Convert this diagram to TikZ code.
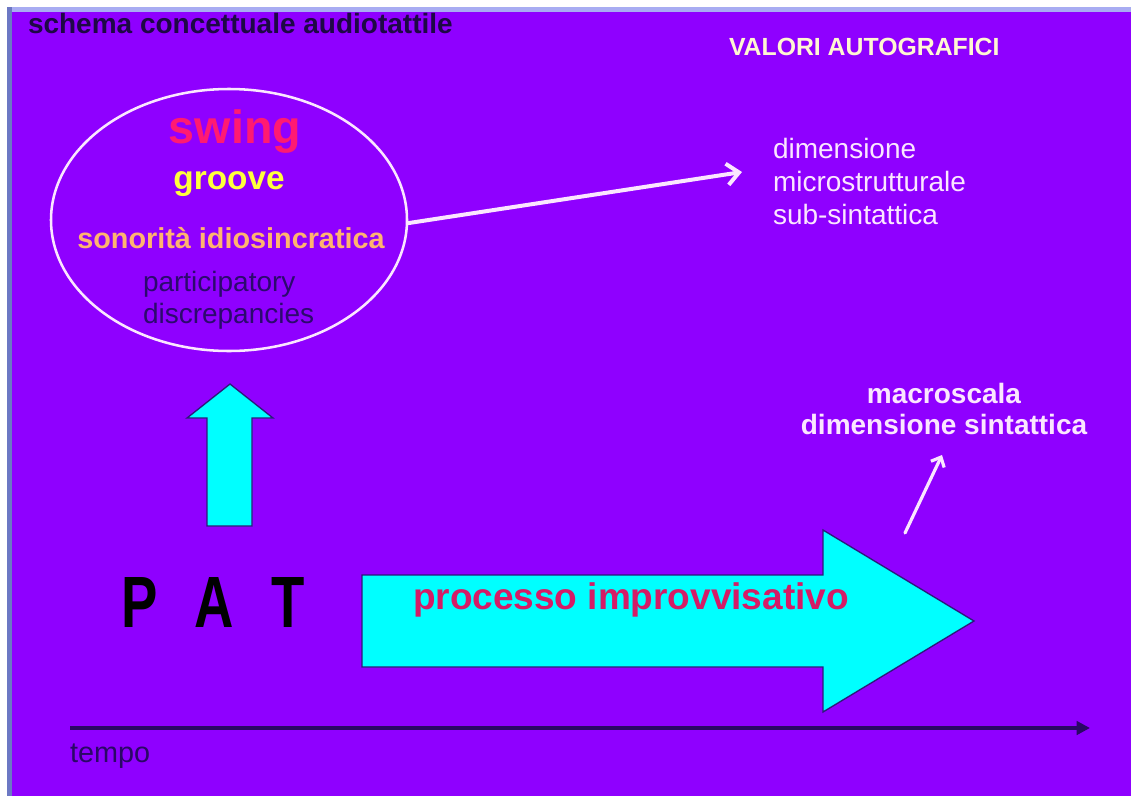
\documentclass[tikz,border=0pt]{standalone}
\usepackage{fontspec}
\setmainfont{Liberation Sans}
\newfontfamily\patfont[FakeStretch=0.75]{Liberation Sans}
\usetikzlibrary{shapes.geometric,arrows.meta}
\definecolor{bgc}{HTML}{8F00FF}
\definecolor{topc}{HTML}{A8ACF2}
\definecolor{leftc}{HTML}{6C78C4}
\definecolor{titlec}{HTML}{1E0846}
\definecolor{valc}{HTML}{FFF6D2}
\definecolor{swingc}{HTML}{FF1A72}
\definecolor{groovec}{HTML}{FFFF3C}
\definecolor{sonc}{HTML}{FFB46E}
\definecolor{partc}{HTML}{2C0A6E}
\definecolor{whitec}{HTML}{FBE6FF}
\definecolor{cyanc}{HTML}{00FFFF}
\definecolor{navyc}{HTML}{2E1A7A}
\definecolor{procc}{HTML}{D41C66}
\definecolor{axisc}{HTML}{2A0866}
\tikzset{
  txt/.style={inner sep=0pt, outer sep=0pt},
  cyanarrow/.style={fill=cyanc, draw=navyc, line width=1pt, line join=miter},
  warrow/.style={draw=whitec, line width=3pt, line cap=round,
    -{Straight Barb[length=9pt,width=16pt,line width=3pt]}},
  wsmall/.style={draw=whitec, line width=2.4pt, line cap=round,
    -{Straight Barb[length=6pt,width=11pt,line width=2.4pt]}},
  axisline/.style={draw=axisc, line width=2.8pt, -{Triangle[length=10pt,width=10pt]}}
}
\begin{document}
\begin{tikzpicture}[x=0.75pt,y=-0.75pt]
\useasboundingbox (0,0) rectangle (1131,796);
% background and frame
\fill[white] (0,0) rectangle (1131,796);
\fill[topc] (7,7) rectangle (1131,12);
\fill[leftc] (7,7) rectangle (12,796);
\fill[bgc] (12,12) rectangle (1131,796);

% titles
\node[txt, anchor=base west, text=titlec, font={\fontsize{21pt}{25pt}\selectfont\bfseries}] (title) at (28,33) {schema concettuale audiotattile};
\node[txt, anchor=base west, text=valc, font={\fontsize{18.6pt}{23pt}\selectfont\bfseries}] (valori) at (729,55) {VALORI AUTOGRAFICI};

% ellipse with contents
\node[ellipse, draw=whitec, line width=1.9pt, minimum width=267pt, minimum height=196.5pt, inner sep=0pt] (ell) at (229,220) {};
\node[txt, anchor=base, text=swingc, font={\fontsize{35pt}{40pt}\selectfont\bfseries}] (swing) at (235,143) {swing};
\node[txt, anchor=base, text=groovec, font={\fontsize{25pt}{30pt}\selectfont\bfseries}] (groove) at (229,189) {groove};
\node[txt, anchor=base, text=sonc, font={\fontsize{21.6pt}{26pt}\selectfont\bfseries}] (son) at (231,248) {sonorità idiosincratica};
\node[txt, anchor=north west, align=left, text=partc, font={\fontsize{21pt}{24pt}\selectfont}] (part) at (143,271) {participatory\\discrepancies};

% right side texts
\node[txt, anchor=north west, align=left, text=whitec, font={\fontsize{21pt}{24.75pt}\selectfont}] (dim) at (773,138) {dimensione\\microstrutturale\\sub-sintattica};
\node[txt, anchor=north, align=center, text=whitec, font={\fontsize{21pt}{23.25pt}\selectfont\bfseries}] (macro) at (944,383) {macroscala\\dimensione sintattica};

% connectors
\coordinate (dimtip) at (742,172);
\draw[warrow] (ell.-1) -- (dimtip);
\coordinate (smallstart) at (905,533);
\coordinate (macrotip) at (942,455);
\draw[wsmall] (smallstart) -- (macrotip);

% cyan up arrow
\draw[cyanarrow] (207,526) -- (252,526) -- (252,418) -- (273,418) -- (230,384) -- (187,418) -- (207,418) -- cycle;
% big process arrow
\draw[cyanarrow] (362,575) -- (823,575) -- (823,530) -- (974,621) -- (823,712) -- (823,667) -- (362,667) -- cycle;
\node[txt, anchor=base west, text=procc, font={\fontsize{27.75pt}{32pt}\selectfont\bfseries}] (proc) at (413,609) {processo improvvisativo};

% PAT
\node[txt, anchor=base west, text=black, font={\fontsize{54.5pt}{60pt}\patfont\bfseries\spaceskip=28pt plus 0pt minus 0pt}] (pat) at (121,627) {P A T};

% time axis
\coordinate (t0) at (70,728);
\coordinate (t1) at (1090,728);
\draw[axisline] (t0) -- (t1);
\node[txt, anchor=base west, text=axisc, font={\fontsize{21.6pt}{26pt}\selectfont}] (tempo) at (70,762) {tempo};
\end{tikzpicture}
\end{document}
